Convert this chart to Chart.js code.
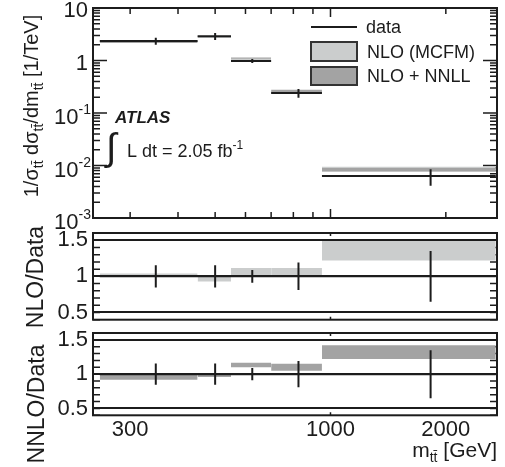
<!DOCTYPE html>
<html>
<head>
<meta charset="utf-8">
<script src="https://cdn.jsdelivr.net/npm/chart.js@4.4.1/dist/chart.umd.min.js"></script>
<style>
  html, body { margin: 0; padding: 0; background: #fff; }
  #wrap { position: relative; width: 505px; height: 467px; overflow: hidden; }
  canvas { position: absolute; left: 0; }
</style>
</head>
<body>
<div id="wrap">
  <canvas id="xsec" width="505" height="235" style="top:0px"></canvas>
  <canvas id="nlo" width="505" height="112" style="top:222px"></canvas>
  <canvas id="nnll" width="505" height="145" style="top:322px"></canvas>
</div>
<script>
// m_tt bins [GeV]
let binLo = [250, 450, 550, 700, 950];
let binHi = [450, 550, 700, 950, 2700];
let binMid = [350, 500, 625, 825, 1825];

// normalised cross section 1/sigma dsigma/dm [1/TeV] and its relative error
let dataValues = [2.35, 2.9, 0.98, 0.24, 0.0063];
let dataRelErr = [0.155, 0.155, 0.088, 0.19, 0.35];

// theory / data bands
let nloLow = [0.99, 0.93, 1.02, 1.0, 1.22];
let nloHigh = [1.04, 0.99, 1.115, 1.115, 1.5];
let nnllLow = [0.92, 0.96, 1.1, 1.05, 1.22];
let nnllHigh = [1.0, 1.0, 1.165, 1.15, 1.42];

let massTicks = [300, 400, 500, 600, 700, 800, 900, 1000, 2000];
let massLabels = {300: "300", 1000: "1000", 2000: "2000"};
let xsecTicks = [0.001, 0.002, 0.003, 0.004, 0.005, 0.006, 0.007, 0.008, 0.009,
                 0.01, 0.02, 0.03, 0.04, 0.05, 0.06, 0.07, 0.08, 0.09,
                 0.1, 0.2, 0.3, 0.4, 0.5, 0.6, 0.7, 0.8, 0.9,
                 1, 2, 3, 4, 5, 6, 7, 8, 9, 10];
let xsecDecades = [0.001, 0.01, 0.1, 1, 10];
let xsecLabels = [[10, "10", ""], [1, "1", ""], [0.1, "10", "-1"], [0.01, "10", "-2"], [0.001, "10", "-3"]];
let ratioTicks = [0.4, 0.5, 0.6, 0.7, 0.8, 0.9, 1, 1.1, 1.2, 1.3, 1.4, 1.5, 1.6];
let ratioLines = [0.5, 1, 1.5];
let ratioLabels = {0.5: "0.5", 1: "1", 1.5: "1.5"};

const ink = '#1c1c1c';
const nloColor = '#cbcdcd';
const nnllColor = '#a3a3a3';
const family = "'Liberation Sans', Arial, Helvetica, sans-serif";

Chart.defaults.font.family = family;
Chart.defaults.color = ink;

function fontFor(size, style) {
  return (style || '') + ' ' + size + 'px ' + family;
}

// draws a run of text pieces [text, size, dy, style] one after another
function drawRich(ctx, parts, x, y, align) {
  ctx.textAlign = 'left';
  ctx.textBaseline = 'alphabetic';
  let widths = parts.map(p => { ctx.font = fontFor(p[1], p[3]); return ctx.measureText(p[0]).width; });
  let total = widths.reduce((a, b) => a + b, 0);
  let cx = align === 'right' ? x - total : align === 'center' ? x - total / 2 : x;
  parts.forEach((p, i) => {
    ctx.font = fontFor(p[1], p[3]);
    ctx.fillText(p[0], cx, y + (p[2] || 0));
    cx += widths[i];
  });
}

function drawRotated(ctx, parts, cx, cy) {
  ctx.save();
  ctx.translate(cx, cy);
  ctx.rotate(-Math.PI / 2);
  drawRich(ctx, parts, 0, 0, 'center');
  ctx.restore();
}

function stepPoints(vals) {
  let pts = [];
  vals.forEach((v, i) => {
    pts.push({x: binLo[i], y: v}, {x: binHi[i], y: v}, {x: binHi[i], y: null});
  });
  return pts;
}

function errorPoints(vals) {
  let pts = [];
  vals.forEach((v, i) => {
    pts.push({x: binMid[i], y: v * (1 - dataRelErr[i])}, {x: binMid[i], y: v * (1 + dataRelErr[i])}, {x: binMid[i], y: null});
  });
  return pts;
}

function bandSets(vals, low, high, color, order) {
  return vals.map((v, i) => ({
    data: [{x: binLo[i], y: v * high[i]}, {x: binHi[i], y: v * high[i]}],
    fill: {target: {value: v * low[i]}},
    backgroundColor: color,
    borderColor: 'rgba(0,0,0,0)',
    borderWidth: 1,
    pointRadius: 0,
    order: order
  }));
}

function dataSets(vals) {
  return [
    {data: stepPoints(vals), borderColor: ink, borderWidth: 2, pointRadius: 0, fill: false, order: 0},
    {data: errorPoints(vals), borderColor: ink, borderWidth: 2, pointRadius: 0, fill: false, order: 0}
  ];
}

function massAxis(showLabels) {
  return {
    type: 'logarithmic',
    min: 240,
    max: 2720,
    border: {display: false},
    grid: {display: false, drawTicks: false},
    ticks: {
      display: showLabels, autoSkip: false, maxRotation: 0, padding: 1,
      font: {size: 22},
      callback: v => massLabels[v] || ''
    },
    afterBuildTicks: s => { s.ticks = massTicks.map(v => ({value: v})); },
    afterFit: s => { s.height = showLabels ? 51.7 : 0; s.paddingLeft = 0; s.paddingRight = 0; }
  };
}

function ratioAxis() {
  return {
    type: 'linear',
    min: 0.4,
    max: 1.6,
    border: {display: false},
    grid: {
      z: 1, drawTicks: false, lineWidth: 2,
      color: c => ratioLines.includes(c.tick.value) ? ink : 'rgba(0,0,0,0)'
    },
    ticks: {autoSkip: false, padding: 5, font: {size: 22}, callback: v => ratioLabels[v] || ''},
    afterBuildTicks: s => { s.ticks = ratioTicks.map(v => ({value: v})); },
    afterFit: s => { s.width = 93; s.paddingTop = 0; s.paddingBottom = 0; }
  };
}

// frame with inward tick marks, plus any extra text for the panel
function framePlugin(cfg) {
  return {
    id: 'frame',
    beforeDatasetsDraw(chart) {
      const {ctx, chartArea: a, scales: {x, y}} = chart;
      ctx.save();
      ctx.strokeStyle = ink;
      ctx.lineWidth = 1.5;
      ctx.beginPath();
      cfg.xTicks.forEach(v => {
        const px = x.getPixelForValue(v);
        const len = cfg.xMajor.includes(v) ? cfg.xMajorLen : cfg.xMinorLen;
        ctx.moveTo(px, a.top); ctx.lineTo(px, a.top + len);
        ctx.moveTo(px, a.bottom); ctx.lineTo(px, a.bottom - len);
      });
      cfg.yTicks.forEach(v => {
        const py = y.getPixelForValue(v);
        const len = cfg.yMajor.includes(v) ? cfg.yMajorLen : cfg.yMinorLen;
        ctx.moveTo(a.left, py); ctx.lineTo(a.left + len, py);
        ctx.moveTo(a.right, py); ctx.lineTo(a.right - len, py);
      });
      ctx.stroke();
      ctx.restore();
    },
    afterDraw(chart) {
      const {ctx, chartArea: a} = chart;
      ctx.save();
      ctx.strokeStyle = ink;
      ctx.lineWidth = 2;
      ctx.strokeRect(a.left, a.top, a.right - a.left, a.bottom - a.top);
      ctx.fillStyle = ink;
      if (cfg.extra) cfg.extra(chart, ctx);
      ctx.restore();
    }
  };
}

function baseOptions(padding, yAxis, showMassLabels) {
  return {
    responsive: false,
    animation: false,
    devicePixelRatio: 1,
    layout: {padding: padding},
    plugins: {legend: {display: false}, tooltip: {enabled: false}},
    elements: {line: {tension: 0}},
    scales: {x: massAxis(showMassLabels), y: yAxis}
  };
}

// upper panel: normalised cross section
new Chart(document.getElementById('xsec'), {
  type: 'line',
  data: {
    datasets: [
      ...dataSets(dataValues),
      ...bandSets(dataValues, nnllLow, nnllHigh, nnllColor, 1),
      ...bandSets(dataValues, nloLow, nloHigh, nloColor, 2)
    ]
  },
  options: baseOptions({left: 0, right: 8, top: 8, bottom: 17}, {
    type: 'logarithmic',
    min: 0.001,
    max: 10,
    border: {display: false},
    grid: {display: false},
    ticks: {display: false},
    afterFit: s => { s.width = 93; s.paddingTop = 0; s.paddingBottom = 0; }
  }, false),
  plugins: [framePlugin({
    xTicks: massTicks, xMajor: [1000], xMajorLen: 9, xMinorLen: 6,
    yTicks: xsecTicks, yMajor: xsecDecades, yMajorLen: 14, yMinorLen: 7,
    extra(chart, ctx) {
      const y = chart.scales.y;
      xsecLabels.forEach(([v, base, exp]) => {
        const py = y.getPixelForValue(v);
        if (exp) drawRich(ctx, [[base, 22], [exp, 14, -10]], 91, py + 11, 'right');
        else drawRich(ctx, [[base, 22]], 88, py + 9, 'right');
      });
      drawRotated(ctx, [['1/σ', 20], ['tt̄', 14, 5], [' dσ', 20], ['tt̄', 14, 5], ['/dm', 20], ['tt̄', 14, 5], [' [1/TeV]', 20]], 38, 106);

      // legend
      ctx.strokeStyle = ink;
      ctx.lineWidth = 2;
      ctx.beginPath();
      ctx.moveTo(311, 27); ctx.lineTo(357, 27);
      ctx.stroke();
      ctx.fillStyle = nloColor;
      ctx.fillRect(311, 42, 46, 19);
      ctx.strokeStyle = '#333';
      ctx.strokeRect(311, 42, 46, 19);
      ctx.fillStyle = nnllColor;
      ctx.fillRect(311, 67, 46, 18);
      ctx.strokeRect(311, 67, 46, 18);
      ctx.fillStyle = ink;
      drawRich(ctx, [['data', 18]], 366, 33, 'left');
      drawRich(ctx, [['NLO (MCFM)', 18]], 367, 58, 'left');
      drawRich(ctx, [['NLO + NNLL', 18]], 367, 82, 'left');

      drawRich(ctx, [['ATLAS', 17, 0, 'italic bold']], 115, 123, 'left');
      drawRich(ctx, [['∫', 38]], 106, 160, 'left');
      drawRich(ctx, [['L dt = 2.05 fb', 18], ['-1', 12, -8]], 127, 157, 'left');
    }
  })]
});

// middle panel: NLO / data
new Chart(document.getElementById('nlo'), {
  type: 'line',
  data: {
    datasets: [
      ...dataSets(binLo.map(() => 1)),
      ...bandSets(binLo.map(() => 1), nloLow, nloHigh, nloColor, 2)
    ]
  },
  options: baseOptions({left: 0, right: 8, top: 11, bottom: 14.3}, ratioAxis(), false),
  plugins: [framePlugin({
    xTicks: [1000], xMajor: [1000], xMajorLen: 3, xMinorLen: 0,
    yTicks: ratioTicks, yMajor: [], yMajorLen: 7, yMinorLen: 7,
    extra(chart, ctx) {
      drawRotated(ctx, [['NLO/Data', 23]], 43, 55);
    }
  })]
});

// lower panel: NLO+NNLL / data
new Chart(document.getElementById('nnll'), {
  type: 'line',
  data: {
    datasets: [
      ...dataSets(binLo.map(() => 1)),
      ...bandSets(binLo.map(() => 1), nnllLow, nnllHigh, nnllColor, 1)
    ]
  },
  options: baseOptions({left: 0, right: 8, top: 11, bottom: 0}, ratioAxis(), true),
  plugins: [framePlugin({
    xTicks: [1000], xMajor: [1000], xMajorLen: 3, xMinorLen: 0,
    yTicks: ratioTicks, yMajor: [], yMajorLen: 7, yMinorLen: 7,
    extra(chart, ctx) {
      drawRotated(ctx, [['NNLO/Data', 23]], 44, 82);
      drawRich(ctx, [['m', 21], ['tt̄', 14, 5], [' [GeV]', 21]], 497, 135, 'right');
    }
  })]
});
</script>
</body>
</html>
